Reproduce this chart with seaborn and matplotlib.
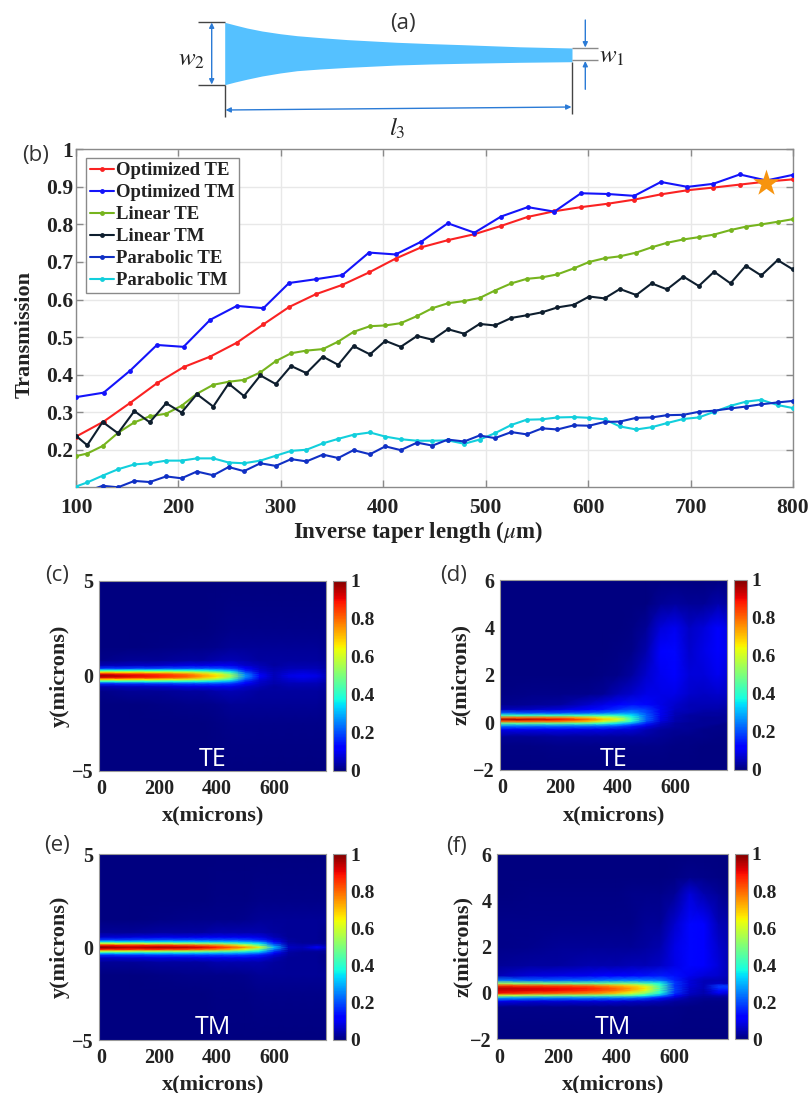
import numpy as np
import matplotlib
matplotlib.use("Agg")
import matplotlib.pyplot as plt
import seaborn as sns

sns.set_theme(style="white")
SERIF = ["Liberation Serif", "DejaVu Serif"]
SANS = ["Open Sans", "DejaVu Sans"]
plt.rcParams["font.family"] = SERIF
plt.rcParams["mathtext.fontset"] = "stix"

W, H = 808, 1093

# ---------- panel (b) data ----------
x_opt = [100, 127, 153, 179, 205, 231, 257, 283, 308, 334, 360, 386, 412, 437,
         463, 489, 515, 541, 567, 593, 619, 645, 671, 697, 722, 748, 774, 800]
opt_te = [.235, .275, .325, .377, .420, .448, .485, .534, .580, .614, .639, .672, .709, .739,
          .758, .774, .796, .820, .835, .846, .855, .866, .880, .891, .898, .906, .914, .920]
opt_tm = [.340, .352, .411, .479, .474, .546, .583, .577, .644, .654, .665, .725, .720, .754,
          .803, .778, .821, .846, .834, .883, .881, .876, .913, .900, .908, .933, .917, .932]
x_dense = [100, 111, 126, 141, 157, 172, 188, 203, 218, 234, 249, 264, 280, 295, 310, 325,
           341, 356, 371, 387, 402, 417, 433, 448, 463, 479, 494, 509, 525, 540, 555, 570,
           586, 601, 616, 631, 647, 662, 677, 693, 708, 723, 739, 754, 769, 785, 800]
lin_te = [.183, .190, .210, .245, .273, .289, .296, .317, .349, .373, .381, .386, .406, .436,
          .457, .464, .468, .488, .514, .529, .531, .537, .556, .577, .590, .596, .604, .624,
          .643, .655, .659, .667, .683, .700, .710, .715, .725, .739, .751, .760, .766, .773,
          .785, .794, .800, .807, .814]
lin_tm = [.237, .212, .274, .244, .303, .273, .324, .299, .348, .315, .376, .343, .398, .375,
          .423, .404, .448, .426, .476, .454, .490, .474, .503, .493, .521, .509, .535, .531,
          .551, .558, .566, .579, .586, .608, .603, .628, .612, .643, .627, .661, .636, .674,
          .643, .690, .664, .705, .680]
par_te = [.075, .090, .104, .100, .117, .114, .129, .124, .142, .132, .154, .143, .164, .157,
          .175, .169, .187, .178, .199, .188, .209, .199, .219, .211, .227, .222, .238, .231,
          .247, .241, .257, .254, .265, .264, .274, .275, .285, .286, .292, .293, .301, .304,
          .310, .315, .321, .326, .330]
par_tm = [.102, .113, .131, .148, .161, .164, .171, .171, .177, .177, .166, .164, .171, .184,
          .197, .200, .217, .229, .240, .246, .235, .228, .224, .224, .225, .216, .227, .244,
          .266, .280, .281, .286, .287, .285, .281, .262, .254, .260, .271, .282, .286, .301,
          .317, .328, .333, .319, .311]
star_x, star_y = [774], [.911]
x_ticks = [100, 200, 300, 400, 500, 600, 700, 800]
y_ticks = [.2, .3, .4, .5, .6, .7, .8, .9, 1]
y_tick_labels = ["0.2", "0.3", "0.4", "0.5", "0.6", "0.7", "0.8", "0.9", "1"]

# ---------- field tables (columns at field_x) ----------
field_x = [-8, 100, 200, 300, 350, 400, 450, 500, 550, 600, 650, 700, 750, 782]

y_half = [0, .1, .2, .3, .4, .55, .8, 1.5, 2.5, 5]
te_y = [
    [1.0, .93, .88, .82, .75, .68, .55, .27, .12, .05, .09, .10, .09, .05],
    [.90, .87, .84, .77, .70, .64, .50, .25, .10, .05, .08, .09, .08, .05],
    [.66, .65, .63, .60, .56, .50, .40, .20, .08, .05, .07, .08, .07, .04],
    [.38, .38, .38, .37, .36, .33, .28, .15, .07, .04, .06, .07, .06, .04],
    [.17, .18, .19, .20, .20, .20, .18, .11, .06, .04, .05, .05, .05, .03],
    [.05, .06, .07, .09, .09, .10, .10, .07, .05, .03, .04, .04, .04, .03],
    [.01, .02, .02, .03, .03, .04, .05, .04, .03, .03, .03, .03, .03, .02],
    [0, 0, .005, .01, .01, .015, .02, .02, .02, .02, .02, .02, .02, .015],
    [0, 0, 0, 0, 0, .005, .01, .01, .01, .01, .01, .01, .01, .01],
    [0, 0, 0, 0, 0, 0, 0, 0, 0, 0, 0, 0, 0, 0],
]
tm_y = [
    [1.0, .95, .97, .95, .92, .88, .82, .75, .62, .32, .06, .05, .11, .06],
    [.90, .88, .88, .85, .82, .78, .72, .62, .48, .25, .05, .04, .07, .04],
    [.62, .60, .58, .56, .54, .52, .48, .42, .36, .18, .04, .03, .03, .02],
    [.36, .35, .35, .34, .33, .32, .31, .29, .25, .13, .03, .02, .02, .02],
    [.18, .19, .20, .20, .20, .20, .20, .19, .16, .08, .03, .02, .02, .01],
    [.07, .08, .09, .09, .10, .10, .10, .10, .09, .05, .02, .02, .02, .01],
    [.02, .02, .03, .03, .03, .04, .04, .04, .04, .03, .02, .02, .02, .01],
    [0, 0, .005, .01, .01, .01, .01, .015, .02, .02, .02, .02, .02, .02],
    [0, 0, 0, 0, 0, .005, .005, .005, .01, .01, .01, .01, .01, .01],
    [0, 0, 0, 0, 0, 0, 0, 0, 0, 0, 0, 0, 0, 0],
]
z_te_nodes = [-2, -1, -.6, -.3, -.15, -.05, .05, .12, .2, .3, .4, .55, .75, 1.2, 2, 3, 4, 5, 6]
te_z = [
    [0, 0, 0, 0, 0, 0, 0, 0, 0, 0, 0, 0, 0, 0],
    [.005, .005, .01, .01, .01, .01, .01, .01, .01, .005, .005, 0, 0, 0],
    [.02, .02, .03, .03, .03, .03, .03, .03, .02, .015, .01, .01, .005, .005],
    [.10, .10, .10, .09, .09, .08, .08, .05, .03, .02, .02, .01, .01, .01],
    [.25, .24, .24, .23, .22, .20, .15, .09, .05, .03, .02, .02, .01, .01],
    [.45, .45, .45, .43, .40, .34, .26, .15, .06, .03, .02, .02, .02, .01],
    [.80, .80, .78, .70, .60, .52, .38, .20, .08, .04, .03, .02, .02, .02],
    [.97, .95, .90, .80, .70, .62, .42, .22, .09, .04, .03, .02, .02, .02],
    [.80, .80, .78, .70, .62, .56, .40, .22, .09, .04, .03, .02, .02, .02],
    [.42, .42, .42, .42, .42, .40, .35, .22, .10, .05, .03, .03, .03, .02],
    [.22, .20, .20, .22, .24, .26, .27, .20, .10, .05, .04, .03, .03, .03],
    [.05, .06, .08, .11, .14, .17, .20, .18, .10, .06, .05, .04, .04, .03],
    [.015, .02, .03, .07, .09, .12, .14, .13, .09, .07, .05, .05, .05, .04],
    [.005, .01, .01, .015, .02, .05, .07, .09, .09, .09, .07, .06, .07, .06],
    [0, 0, 0, 0, .005, .01, .03, .07, .10, .12, .08, .08, .10, .08],
    [0, 0, 0, 0, 0, .005, .01, .04, .11, .13, .07, .09, .12, .10],
    [0, 0, 0, 0, 0, 0, .005, .02, .08, .10, .06, .08, .11, .09],
    [0, 0, 0, 0, 0, 0, 0, 0, .02, .03, .02, .02, .04, .03],
    [0, 0, 0, 0, 0, 0, 0, 0, 0, 0, 0, 0, 0, 0],
]
z_tm_nodes = [-2, -.6, -.35, -.2, -.1, 0, .12, .22, .32, .42, .55, .75, 1.2, 2, 3, 4.3, 5, 6]
tm_z = [
    [0, 0, 0, 0, 0, 0, 0, 0, 0, 0, 0, 0, 0, 0],
    [.01, .01, .01, .01, .01, .01, .01, .01, .01, .01, .005, .005, .005, .005],
    [.10, .08, .08, .08, .08, .08, .07, .06, .05, .03, .02, .01, .01, .01],
    [.30, .27, .26, .26, .25, .25, .24, .20, .14, .07, .03, .02, .02, .02],
    [.60, .55, .52, .50, .48, .47, .45, .38, .28, .13, .05, .03, .05, .04],
    [.90, .85, .82, .78, .75, .70, .62, .52, .38, .17, .06, .04, .10, .08],
    [.93, .92, .90, .86, .83, .79, .72, .62, .42, .18, .07, .04, .14, .14],
    [.95, .92, .90, .88, .84, .80, .74, .66, .44, .18, .07, .05, .17, .17],
    [.85, .83, .82, .80, .76, .72, .68, .60, .42, .17, .08, .05, .18, .18],
    [.55, .50, .48, .47, .47, .48, .48, .44, .38, .18, .08, .05, .06, .05],
    [.25, .22, .22, .23, .24, .25, .26, .25, .24, .16, .08, .05, .05, .04],
    [.05, .08, .09, .10, .11, .12, .13, .14, .15, .14, .10, .08, .07, .05],
    [.02, .03, .03, .04, .04, .04, .05, .05, .06, .09, .13, .11, .08, .05],
    [.01, .015, .02, .02, .02, .02, .02, .03, .04, .09, .13, .11, .07, .05],
    [.01, .01, .01, .01, .01, .01, .01, .02, .02, .07, .13, .11, .05, .04],
    [0, .005, .005, .005, .005, .005, .01, .01, .01, .02, .08, .04, .02, .01],
    [0, 0, 0, 0, 0, 0, 0, 0, 0, .005, .015, .01, .005, 0],
    [0, 0, 0, 0, 0, 0, 0, 0, 0, 0, 0, 0, 0, 0],
]
cbar_ticks = [0, .2, .4, .6, .8, 1]
cbar_labels = ["0", "0.2", "0.4", "0.6", "0.8", "1"]

# ---------- panel (a) outline, in picture pixels ----------
taper_x = [224.7, 235, 247, 262, 280, 297, 320, 347, 397, 430, 463, 520, 572]
taper_top = [22.3, 25, 28, 31, 33.7, 35.7, 37.6, 39.6, 42.3, 43.6, 44.7, 46.8, 48]
taper_bot = [84.7, 82, 79.2, 76, 73, 70.7, 69, 67.4, 65, 64, 63.3, 62.3, 61.7]

GRAY = "#8a8a8a"
TXT = "#222222"


def box(left, top, right, bottom):
    return [left / W, 1 - bottom / H, (right - left) / W, (bottom - top) / H]


def embolden(a):
    for t in a.get_xticklabels() + a.get_yticklabels():
        t.set_fontweight("bold")


fig = plt.figure(figsize=(W / 100, H / 100), dpi=100, facecolor="white")

# ---------- overlay for schematic and labels ----------
ov = fig.add_axes([0, 0, 1, 1], zorder=5)
ov.set_xlim(0, W)
ov.set_ylim(H, 0)
ov.axis("off")
ov.fill_between(taper_x, taper_top, taper_bot, color="#55C1FF", lw=0)
DK = "#444444"
for xs, ys, c in [
    ((198, 224.7), (22.3, 22.3), DK), ((198, 224.7), (84.7, 84.7), DK),
    ((224.7, 224.7), (84.7, 116.7), DK), ((572, 572), (61.7, 114), DK),
    ((572, 598), (48.3, 48.3), GRAY), ((572, 598), (60.3, 60.3), GRAY),
]:
    ov.plot(xs, ys, color=c, lw=1.0, solid_capstyle="butt")
arrow = dict(arrowstyle="<|-|>,head_width=0.12,head_length=0.25", color="#2B7BD6", lw=1.0,
             shrinkA=0, shrinkB=0)
ov.annotate("", xy=(211.7, 22.5), xytext=(211.7, 84.5), arrowprops=arrow)
ov.annotate("", xy=(225.5, 110), xytext=(571.5, 107), arrowprops=arrow)
one = dict(arrowstyle="-|>,head_width=0.12,head_length=0.25", color="#2B7BD6", lw=1.0,
           shrinkA=0, shrinkB=0)
ov.annotate("", xy=(585.3, 47.5), xytext=(585.3, 20), arrowprops=one)
ov.annotate("", xy=(585.3, 61), xytext=(585.3, 89.3), arrowprops=one)
for s, px, py in [(r"$w_2$", 191.7, 60), (r"$w_1$", 612, 57), (r"$l_3$", 397.7, 128)]:
    ov.text(px, py, s, ha="center", va="center", fontsize=18, color="#222222")
for s, px, py in [("(a)", 402.7, 23), ("(b)", 36, 155), ("(c)", 56.7, 575), ("(d)", 454, 575),
                  ("(e)", 57, 845), ("(f)", 456.7, 846.7)]:
    ov.text(px, py, s, ha="center", va="center", fontsize=16, family=SANS, fontweight="normal",
            color="#333333")

# ---------- panel (b) ----------
ax = fig.add_axes(box(76, 149.3, 793, 487.3))
series = [
    ("Optimized TE", x_opt, opt_te, "#FA2222", 3),
    ("Optimized TM", x_opt, opt_tm, "#1414FA", 4),
    ("Linear TE", x_dense, lin_te, "#76B41E", 3),
    ("Linear TM", x_dense, lin_tm, "#0E1E2E", 4),
    ("Parabolic TE", x_dense, par_te, "#1030C4", 4),
    ("Parabolic TM", x_dense, par_tm, "#12CFDC", 3),
]
for name, xs, ys, col, z in series:
    sns.lineplot(x=xs, y=ys, ax=ax, color=col, lw=1.5, marker="o", markersize=3.5,
                 markeredgewidth=0, label=name, zorder=z, sort=False, errorbar=None)
sns.scatterplot(x=star_x, y=star_y, ax=ax, marker="*", s=400, color="#F7940F", linewidth=0,
                zorder=6, legend=False)
ax.set_xlim(100, 800)
ax.set_ylim(.1, 1)
ax.set_xticks(x_ticks)
ax.set_yticks(y_ticks)
ax.set_yticklabels(y_tick_labels)
ax.tick_params(axis="both", which="both", direction="in", length=5, width=1, color=GRAY,
               top=True, right=True, bottom=True, left=True, labelsize=15.5, labelcolor=TXT)
ax.tick_params(axis="x", pad=8)
ax.tick_params(axis="y", pad=2)
embolden(ax)
ax.grid(True, color="#e8e8e8", lw=1)
ax.set_axisbelow(True)
for s in ax.spines.values():
    s.set_color(GRAY)
    s.set_linewidth(1)
leg = ax.legend(loc="upper left", bbox_to_anchor=(10 / 717, 1 - 9 / 338), borderaxespad=0,
                prop={"size": 13.5, "weight": "bold"}, frameon=True, fancybox=False,
                edgecolor=GRAY, framealpha=1, handlelength=1.3, handletextpad=0.12,
                labelspacing=0.26, borderpad=0.2)
leg.get_frame().set_linewidth(1)
for t in leg.get_texts():
    t.set_color(TXT)
ov.text(418, 532, r"Inverse taper length ($\mu$m)", ha="center", va="center", fontsize=16.5,
        fontweight="bold", color=TXT)
ov.text(25, 334, "Transmission", ha="center", va="center", rotation=90, fontsize=16,
        fontweight="bold", color=TXT)


# ---------- field panels ----------
def field(main, cb, y_nodes, table, ylim, yticks, ylab, ylab_x, xlab_y, tag, tag_y, cx):
    a = fig.add_axes(box(*main))
    mesh = a.pcolormesh(field_x, y_nodes, np.array(table), cmap="jet", vmin=0, vmax=1,
                        shading="gouraud", rasterized=True)
    a.set_xlim(-8, 782)
    a.set_ylim(*ylim)
    a.set_xticks([0, 200, 400, 600])
    a.set_yticks(yticks)
    a.tick_params(length=0, labelsize=14.5, labelcolor=TXT)
    a.tick_params(axis="x", pad=6)
    a.tick_params(axis="y", pad=4)
    embolden(a)
    for s in a.spines.values():
        s.set_color("#999999")
        s.set_linewidth(0.8)
    c = fig.add_axes(box(*cb))
    cbar = fig.colorbar(mesh, cax=c, ticks=cbar_ticks)
    cbar.ax.set_yticklabels(cbar_labels)
    cbar.ax.tick_params(length=0, labelsize=14, labelcolor=TXT, pad=3)
    embolden(cbar.ax)
    cbar.outline.set_edgecolor("#999999")
    cbar.outline.set_linewidth(0.8)
    ymid = (main[1] + main[3]) / 2
    ov.text(ylab_x, ymid, ylab, rotation=90, ha="center", va="center", fontsize=16,
            fontweight="bold", color=TXT)
    ov.text(cx, xlab_y, "x(microns)", ha="center", va="center", fontsize=16,
            fontweight="bold", color=TXT)
    ov.text(cx, tag_y, tag, ha="center", va="center", fontsize=18, family=SANS,
            fontweight="normal", color="white")


y_full = [-v for v in y_half[::-1]] + y_half[1:]
field((99, 580.7, 326.3, 770.7), (333.3, 580.7, 346, 770.7), y_full, te_y[::-1] + te_y[1:],
      (-5, 5), [-5, 0, 5], "y(microns)", 60, 815, "TE", 759, 213)
field((500.3, 580, 727.3, 769.7), (734, 580, 747, 769.7), z_te_nodes, te_z,
      (-2, 6), [-2, 0, 2, 4, 6], "z(microns)", 461, 815, "TE", 759, 614)
field((99, 854.3, 326.3, 1040), (333.3, 854.3, 346, 1040), y_full, tm_y[::-1] + tm_y[1:],
      (-5, 5), [-5, 0, 5], "y(microns)", 60, 1084, "TM", 1028, 213)
field((497, 854, 728, 1039.3), (734.7, 854, 747.7, 1039.3), z_tm_nodes, tm_z,
      (-2, 6), [-2, 0, 2, 4, 6], "z(microns)", 463, 1084, "TM", 1028, 613)

fig.savefig("out.png", dpi=100, facecolor="white")
